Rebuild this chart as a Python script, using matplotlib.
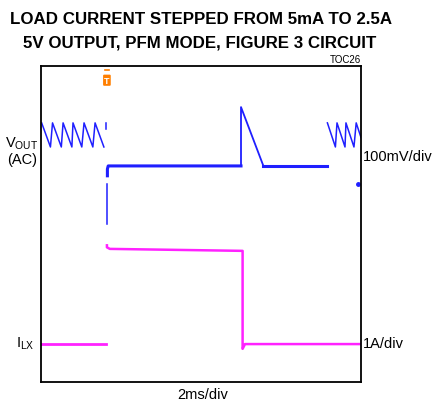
import numpy as np
import matplotlib
matplotlib.use("Agg")
from matplotlib import pyplot as plt
from matplotlib import font_manager
from matplotlib.transforms import blended_transform_factory

# scope settings: 2ms/div horizontally, 10 divs; 8 divs vertically
T_SPAN = 20.0           # ms
N_DIV_Y = 8
VOUT_MV_PER_DIV = 100.0
ILX_A_PER_DIV = 1.0
VOUT_ZERO_DIV = 5.47    # trace position of the settled output
ILX_ZERO_DIV = 0.96     # trace position of zero inductor current

# V_OUT (AC), mV -- PFM ripple before the step
saw_left_t = [0.04, 0.72, 1.38, 2.00, 2.69, 3.38]
saw_top_mv = 109
saw_bot_mv = 48
saw_ramp_ms = 0.55

# V_OUT right at the load step
step_drop_t = [4.10, 4.10]
step_drop_mv = [-46, -147]
step_rec_t = [4.15, 4.15, 4.20, 12.50]
step_rec_mv = [-25, -8, 0, 0]

# V_OUT on load release: overshoot then decay
release_t = [12.50, 12.50, 13.90, 17.90]
release_mv = [0, 149, 0, 0]

# PFM ripple again after release
saw_right_t = [17.90, 18.50, 19.06, 19.70]
saw_right_ramp = [0.50, 0.50, 0.50, 0.30]
saw_right_bot = [48, 48, 48, 72]

# inductor current, A
ilx_low_t = [0.0, 4.06]
ilx_low_a = [0.0, 0.0]
ilx_high_t = [4.12, 4.12, 4.30, 12.60, 12.60, 12.75, 20.0]
ilx_high_a = [2.50, 2.45, 2.41, 2.36, -0.12, 0.0, 0.0]

trig_t = 4.12

rc_fonts = {
    "font.family": ["Liberation Sans", "DejaVu Sans"],
    "font.size": 10.5,
}
plt.rcParams.update(rc_fonts)


def has_font(name):
    try:
        font_manager.findfont(font_manager.FontProperties(family=name), fallback_to_default=False)
        return True
    except ValueError:
        return False


narrow = has_font("Liberation Sans Narrow")
title_family = ["Liberation Sans Narrow"] if narrow else ["Liberation Sans"]
title_size = 14.5 if narrow else 12.2


def vdiv(mv):
    return VOUT_ZERO_DIV + np.asarray(mv, dtype=float) / VOUT_MV_PER_DIV


def idiv(a):
    return ILX_ZERO_DIV + np.asarray(a, dtype=float) / ILX_A_PER_DIV


fig = plt.figure(figsize=(4.32, 4.02), dpi=100)
ax = fig.add_axes([41 / 432, 19 / 402, 320 / 432, 316 / 402])
ax.set_xlim(0, T_SPAN)
ax.set_ylim(0, N_DIV_Y)
ax.set_xticks([])
ax.set_yticks([])
for s in ax.spines.values():
    s.set_linewidth(1.3)

blue = "#1f1fff"
mag = "#ff22ff"

# left sawtooth
xs, ys = [], []
for t0 in saw_left_t:
    xs += [t0, t0 + saw_ramp_ms]
    ys += [saw_top_mv, saw_bot_mv]
ax.plot(xs, vdiv(ys), color=blue, lw=1.1)
ax.plot([4.06, 4.06], vdiv([109, 93]), color=blue, lw=1.1)

ax.plot(step_drop_t, vdiv(step_drop_mv), color=blue, lw=1.1)
ax.plot(step_rec_t, vdiv(step_rec_mv), color=blue, lw=2.2)
ax.plot(release_t, vdiv(release_mv), color=blue, lw=1.3)
ax.plot(release_t[2:], vdiv(release_mv[2:]), color=blue, lw=2.2)

xs, ys = [], []
for t0, r, b in zip(saw_right_t, saw_right_ramp, saw_right_bot):
    xs += [t0, t0 + r]
    ys += [saw_top_mv, b]
ax.plot(xs, vdiv(ys), color=blue, lw=1.1)
ax.plot([19.8], vdiv([-46]), "o", color=blue, ms=2.5)

ax.plot(ilx_low_t, idiv(ilx_low_a), color=mag, lw=2.0)
ax.plot(ilx_high_t, idiv(ilx_high_a), color=mag, lw=1.8)

# trigger marker
tr = blended_transform_factory(ax.transData, ax.transAxes)
ax.plot([trig_t - 0.15, trig_t + 0.15], [0.988, 0.988], color="#ff7f00", lw=1.2, transform=tr, clip_on=False)
ax.text(trig_t, 0.955, "T", transform=tr, ha="center", va="center", fontsize=6.5, fontweight="bold",
        color="white", bbox=dict(boxstyle="round,pad=0.12", fc="#ff7f00", ec="none"))

# labels
ax.text(-0.2, vdiv(60), r"V$_{\mathregular{OUT}}$", ha="right", va="center")
ax.text(-0.25, vdiv(18), "(AC)", ha="right", va="center")
ax.text(20.1, vdiv(24), "100mV/div", ha="left", va="center")
ax.text(-0.4, idiv(0.03), r"I$_{\mathregular{LX}}$", ha="right", va="center")
ax.text(20.1, idiv(0.03), "1A/div", ha="left", va="center")
ax.text(10.1, -0.12, "2ms/div", ha="center", va="top")
ax.text(20.0, 8.05, "TOC26", ha="right", va="bottom", fontsize=7)

fig.text(201 / 432, 1 - 20 / 402, "LOAD CURRENT STEPPED FROM 5mA TO 2.5A", ha="center", va="center",
         fontsize=title_size, fontweight="bold", family=title_family)
fig.text(200 / 432, 1 - 43 / 402, "5V OUTPUT, PFM MODE, FIGURE 3 CIRCUIT", ha="center", va="center",
         fontsize=title_size, fontweight="bold", family=title_family)

fig.savefig("out.png", dpi=100)
